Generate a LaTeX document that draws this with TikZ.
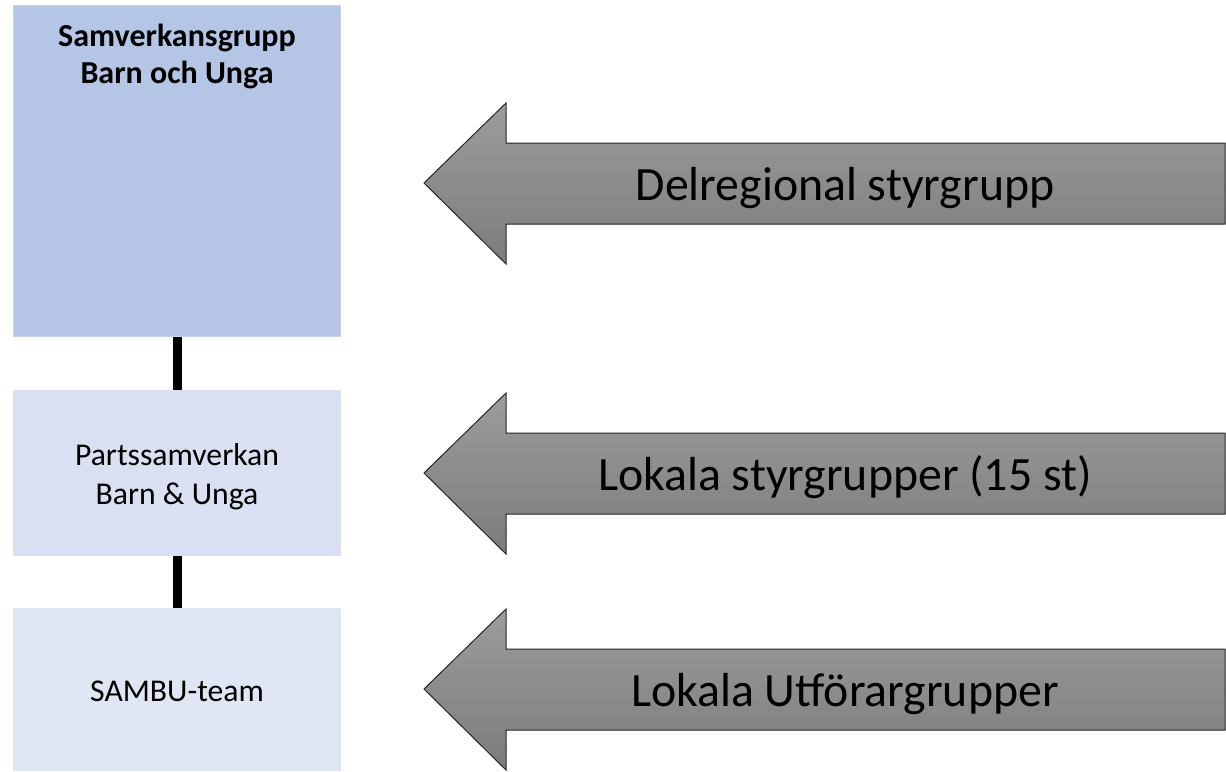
\documentclass[tikz,border=0pt]{standalone}
\usepackage{fontspec}
\setmainfont{Carlito}
\begin{document}
\begin{tikzpicture}[x=1pt,y=-1pt,
  boxa/.style={draw=boxaborder,line width=1.5pt,fill=boxafill,inner sep=0pt,minimum width=327pt,minimum height=331pt},
  boxb/.style={fill=boxbfill,inner sep=0pt,minimum width=328pt,minimum height=166pt},
  boxc/.style={fill=boxcfill,inner sep=0pt,minimum width=328pt,minimum height=163pt},
  link/.style={line width=9pt,black},
  arrowshape/.style={draw=arrowborder,line width=1pt,top color=arrowtop,bottom color=arrowbot},
  arrowtext/.style={font=\fontsize{47.8}{57}\selectfont,anchor=base,inner sep=0pt},
  boxtext/.style={font=\fontsize{31.7}{39}\selectfont,align=center,inner sep=0pt}]
\definecolor{boxafill}{HTML}{B4C5E5}
\definecolor{boxaborder}{HTML}{C8D4EE}
\definecolor{boxbfill}{HTML}{DAE0F2}
\definecolor{boxcfill}{HTML}{E1E6F4}
\definecolor{arrowtop}{HTML}{9C9C9C}
\definecolor{arrowbot}{HTML}{7C7C7C}
\definecolor{arrowborder}{HTML}{262626}
\useasboundingbox (0,0) rectangle (1226,771);
% boxes
\node[boxa] (sg) at (177,171) {};
\node[boxb] (ps) at (177,473) {};
\node[boxc] (st) at (177,689.5) {};
\draw[link] (sg.south) -- (ps.north);
\draw[link] (ps.south) -- (st.north);
\node[font=\bfseries\fontsize{32}{37}\selectfont,align=center,inner sep=0pt,anchor=base] (sgt) at (177,83) {Samverkansgrupp\\Barn och Unga};
\node[boxtext,anchor=base] (pst) at (177,504) {Partssamverkan\\Barn \& Unga};
\node[boxtext,anchor=base] (stt) at (177,701.5) {SAMBU-team};
% arrows
\foreach \t/\n in {183/a1,473/a2,689/a3}{
  \path[arrowshape] (1225,\t-40) -- (506,\t-40) -- (506,\t-80) -- (424,\t) -- (506,\t+81) -- (506,\t+41) -- (1225,\t+41) -- cycle;
}
\node[arrowtext] (d1) at (845,200) {Delregional styrgrupp};
\node[arrowtext] (d2) at (845,490) {Lokala styrgrupper (15 st)};
\node[arrowtext] (d3) at (845,706) {Lokala Utförargrupper};
\end{tikzpicture}
\end{document}
